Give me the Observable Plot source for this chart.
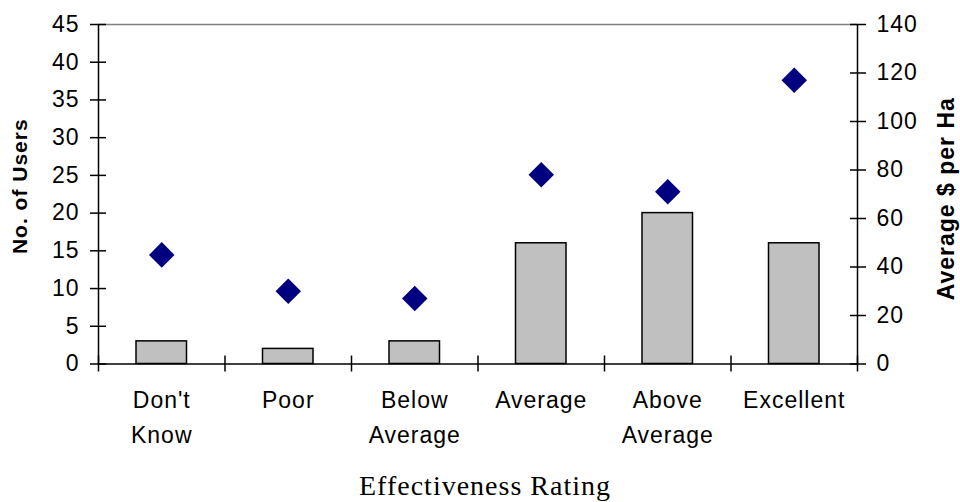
<!DOCTYPE html>
<html>
<head>
<meta charset="utf-8">
<script src="https://cdn.jsdelivr.net/npm/d3@7"></script>
<script src="https://cdn.jsdelivr.net/npm/@observablehq/plot@0.6"></script>
<style>
  html, body { margin: 0; padding: 0; background: #fff; }
  svg { font-family: "Liberation Sans", Arial, sans-serif; letter-spacing: 1px; }
</style>
</head>
<body>
<div id="chart"></div>
<script>
const categories = ["Don't\nKnow", "Poor", "Below\nAverage", "Average", "Above\nAverage", "Excellent"];
const users = [3, 2, 3, 16, 20, 16];
const avgCost = [45, 30, 27, 78, 71, 117];
const leftTicks = [0, 5, 10, 15, 20, 25, 30, 35, 40, 45];
const rightTicks = [0, 20, 40, 60, 80, 100, 120, 140];
const leftMax = 45;
const rightMax = 140;

const data = categories.map((c, i) => ({i, c, users: users[i], cost: avgCost[i]}));
const toLeft = v => v * leftMax / rightMax;
const boundaries = d3.range(categories.length + 1);
const centers = d3.range(categories.length).map(i => i + 0.5);

const chart = Plot.plot({
  width: 960,
  height: 502,
  marginLeft: 98,
  marginRight: 103,
  marginTop: 24,
  marginBottom: 138.5,
  style: {fontSize: "23px", background: "#fff", color: "#000"},
  x: {domain: [0, categories.length], label: null},
  y: {domain: [0, leftMax], label: null},
  marks: [
    Plot.ruleY([leftMax], {stroke: "#808080", strokeWidth: 1.5}),
    Plot.rectY(data, {x1: d => d.i, x2: d => d.i + 1, y: "users", insetLeft: 38, insetRight: 38,
      fill: "#c0c0c0", stroke: "#000", strokeWidth: 1.5}),
    Plot.ruleY([0], {stroke: "#000", strokeWidth: 1.5}),
    Plot.ruleX([0, categories.length], {stroke: "#000", strokeWidth: 1.5}),
    Plot.dot(data, {x: d => d.i + 0.5, y: d => toLeft(d.cost), symbol: "diamond2", r: 11.5, fill: "#000080", stroke: null}),
    // left axis
    Plot.axisY(leftTicks, {anchor: "left", tickSize: 8, tickPadding: 11, strokeWidth: 1.5, label: null, fontSize: 23}),
    Plot.axisY(leftTicks, {anchor: "left", tickSize: 8, dx: 8, fill: "none", strokeWidth: 1.5, label: null}),
    // right axis
    Plot.axisY(rightTicks.map(toLeft), {anchor: "right", tickSize: 8, tickPadding: 11, strokeWidth: 1.5, label: null, fontSize: 23,
      tickFormat: v => String(Math.round(v * rightMax / leftMax))}),
    Plot.axisY(rightTicks.map(toLeft), {anchor: "right", tickSize: 8, dx: -8, fill: "none", strokeWidth: 1.5, label: null}),
    // x boundary ticks
    Plot.axisX(boundaries, {anchor: "bottom", tickSize: 8, fill: "none", strokeWidth: 1.5, label: null}),
    Plot.axisX(boundaries, {anchor: "bottom", tickSize: 8, dy: -8, fill: "none", strokeWidth: 1.5, label: null}),
    // category labels
    Plot.axisX(centers, {anchor: "bottom", tickSize: 0, tickPadding: 20, lineHeight: 1.5, label: null, fontSize: 23,
      tickFormat: v => categories[Math.floor(v)]}),
    // axis titles
    Plot.text(["No. of Users"], {frameAnchor: "left", textAnchor: "middle", lineAnchor: "middle", dx: -78, dy: -8, rotate: -90, fontWeight: "bold", fontSize: 21}),
    Plot.text(["Average $ per Ha"], {frameAnchor: "right", textAnchor: "middle", lineAnchor: "middle", dx: 89, dy: 4.5, rotate: -90, fontWeight: "bold", fontSize: 23}),
    Plot.text(["Effectiveness Rating"], {frameAnchor: "bottom", textAnchor: "middle", lineAnchor: "middle", dx: 7, dy: 122.5, fontSize: 28, fontFamily: "Liberation Serif, Times New Roman, serif"})
  ]
});
document.getElementById("chart").appendChild(chart);
</script>
</body>
</html>
